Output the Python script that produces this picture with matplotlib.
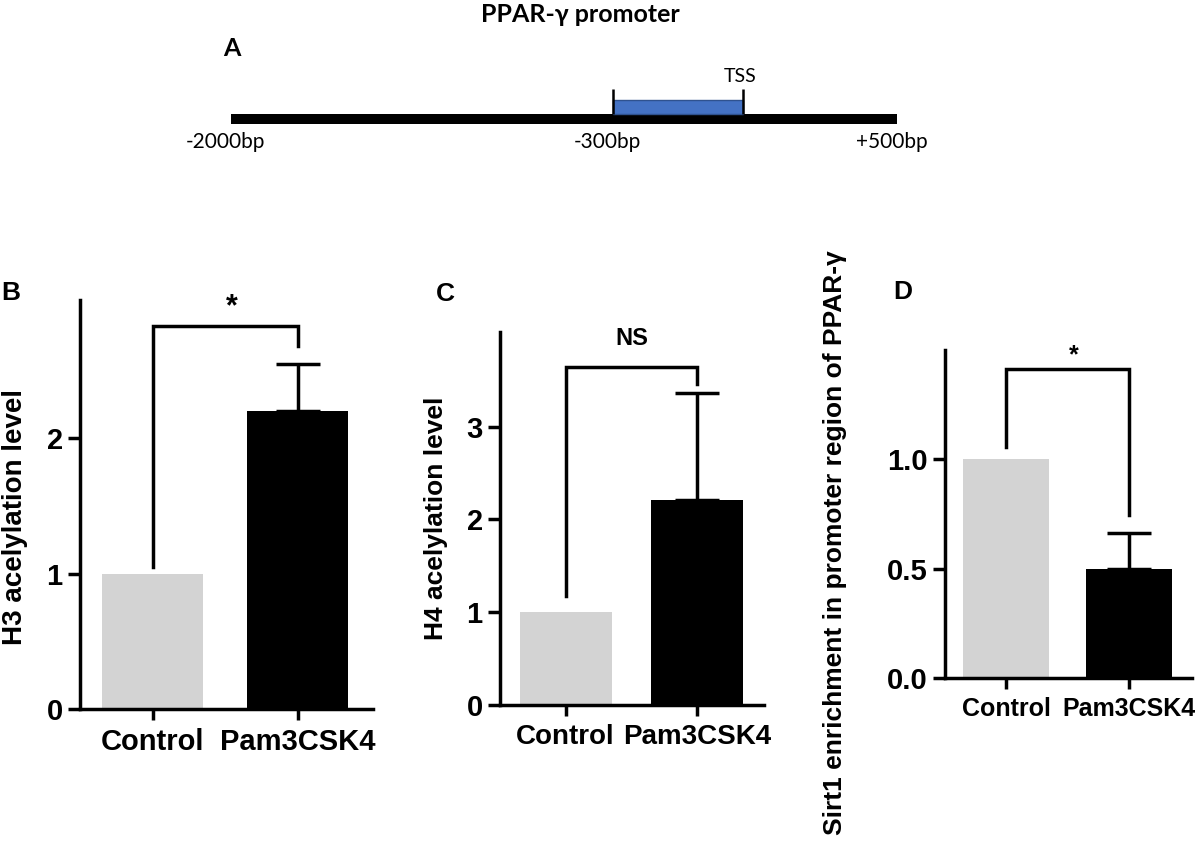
import matplotlib
matplotlib.use("Agg")
import matplotlib.pyplot as plt
from matplotlib.patches import Rectangle

plt.rcParams["font.family"] = ["Liberation Sans", "DejaVu Sans"]

# panel A: promoter schematic (schematic positions along drawn line, 0..1)
promoter_title = "PPAR-γ promoter"
site_labels = ["-2000bp", "-300bp", "+500bp"]
site_pos = [0.0, 0.574, 1.0]
region_start = 0.574
tss_pos = 0.769

# bar panels
groups = ["Control", "Pam3CSK4"]
h3_mean = [1.0, 2.2]
h3_err = [0.0, 0.35]
h4_mean = [1.0, 2.21]
h4_err = [0.0, 1.15]
sirt1_mean = [1.0, 0.5]
sirt1_err = [0.0, 0.165]

W, H = 1200, 851
fig = plt.figure(figsize=(W / 100, H / 100), dpi=100)


def px_axes(x0, y0, x1, y1):
    # pixel box (top-left origin) -> figure axes
    return fig.add_axes([x0 / W, 1 - y1 / H, (x1 - x0) / W, (y1 - y0) / H])


# ---------- panel A ----------
axa = px_axes(231, 60, 897, 160)
axa.set_xlim(0, 1)
axa.set_ylim(0, 1)
axa.axis("off")
axa.add_patch(Rectangle((site_pos[0], 0.365), site_pos[-1] - site_pos[0], 0.095,
                        facecolor="black", edgecolor="none"))
axa.add_patch(Rectangle((region_start, 0.46), tss_pos - region_start, 0.14,
                        facecolor="#4472C4", edgecolor="#2F528F", lw=1))
for xv in [region_start, tss_pos]:
    axa.plot([xv, xv], [0.46, 0.71], color="black", lw=1.8, solid_capstyle="butt")
axa.annotate("TSS", (tss_pos, 0.83), xytext=(-2, 0), textcoords="offset points",
             ha="center", va="center", fontsize=14, family="Lato")
for lab, xv in zip(site_labels, site_pos):
    axa.annotate(lab, (xv, 0.18), xytext=(-4, 0), textcoords="offset points",
                 ha="center", va="center", fontsize=15, family="Lato")

fig.text(580 / W, 1 - 14 / H, promoter_title, ha="center", va="center",
         fontsize=18, fontweight="bold", family="Lato")
fig.text(232 / W, 1 - 48 / H, "A", ha="center", va="center", fontsize=18,
         fontweight="bold", family="Lato")


# ---------- bar panels ----------
def bar_panel(box, means, errs, ylim, yticks, yticklabels, right,
              bracket, sig, sig_size, sig_y, xlab_size):
    ax = px_axes(*box)
    x = [0, 1]
    ax.bar(x, means, width=0.7, color=["#d3d3d3", "black"])
    ax.errorbar([1], [means[1]], yerr=[[0], [errs[1]]], fmt="none",
                ecolor="black", elinewidth=2.5, capsize=16, capthick=2.5)
    ax.set_xlim(-0.5, right)
    ax.set_ylim(*ylim)
    ax.set_yticks(yticks)
    ax.set_yticklabels(yticklabels)
    ax.set_xticks(x)
    ax.set_xticklabels(groups)
    for s in ["top", "right"]:
        ax.spines[s].set_visible(False)
    for s in ["left", "bottom"]:
        ax.spines[s].set_linewidth(2.5)
    ax.tick_params(axis="y", length=8.5, width=2.5, pad=4, labelsize=21)
    ax.tick_params(axis="x", length=8, width=2.5, pad=6, labelsize=xlab_size)
    for t in ax.get_xticklabels() + ax.get_yticklabels():
        t.set_fontweight("bold")
    top, left_end, right_end = bracket
    ax.plot([0, 0, 1, 1], [left_end, top, top, right_end], color="black",
            lw=2.5, solid_joinstyle="miter", clip_on=False)
    ax.text(0.5 if sig == "NS" else 0.55, sig_y, sig, ha="center",
            va="center", fontsize=sig_size, fontweight="bold", clip_on=False)
    return ax


axb = bar_panel((80, 300, 373, 709), h3_mean, h3_err, (0, 3.02), [0, 1, 2],
                ["0", "1", "2"], 1.52, (2.83, 1.05, 2.68), "*", 22, 2.97, 21)

axc = bar_panel((500, 332, 764, 705), h4_mean, h4_err, (0, 4.02), [0, 1, 2, 3],
                ["0", "1", "2", "3"], 1.51, (3.64, 1.17, 3.46), "NS", 17, 3.95, 20)
axc.set_ylabel("H4 acelylation level", fontsize=19, fontweight="bold")
axc.yaxis.set_label_coords(-0.197, 0.5)

axd = bar_panel((945, 350, 1192, 678), sirt1_mean, sirt1_err, (0, 1.5),
                [0, 0.5, 1.0], ["0.0", "0.5", "1.0"], 1.51,
                (1.415, 1.055, 0.745), "*", 18, 1.475, 18)

fig.text(15 / W, 1 - 517 / H, "H3 acelylation level", rotation=90,
         ha="center", va="center", fontsize=20, fontweight="bold")
fig.text(835 / W, 1 - 543 / H, "Sirt1 enrichment in promoter region of PPAR-γ",
         rotation=90, ha="center", va="center", fontsize=19, fontweight="bold")

for lab, (xp, yp) in zip(["B", "C", "D"], [(11, 293), (445, 294), (903, 292)]):
    fig.text(xp / W, 1 - yp / H, lab, ha="center", va="center", fontsize=19,
             fontweight="bold")

fig.savefig("out.png", dpi=100, facecolor="white")
